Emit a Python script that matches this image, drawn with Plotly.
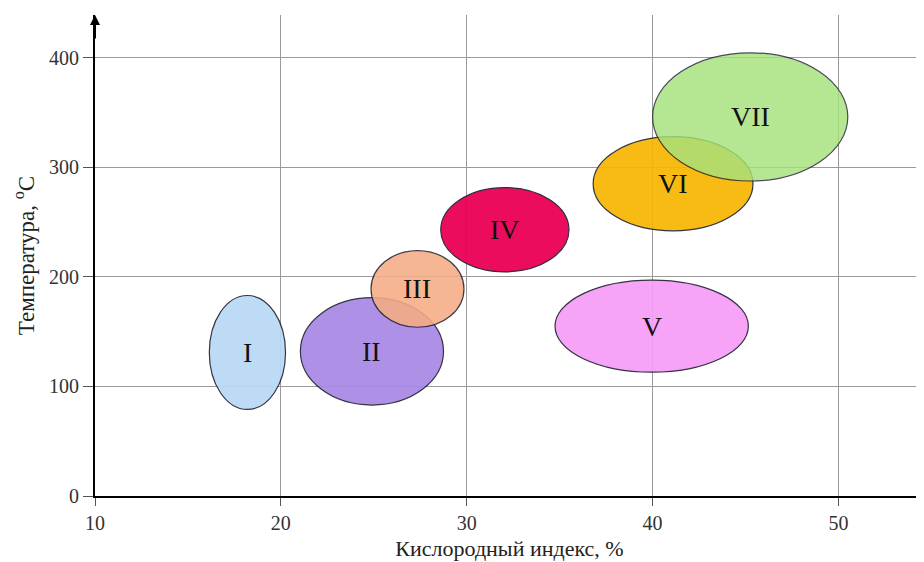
import plotly.graph_objects as go

labels = ["I", "II", "III", "IV", "V", "VI", "VII"]
x_center = [18.2, 24.9, 27.35, 32.05, 39.95, 41.1, 45.25]
y_center = [131, 132, 189, 243, 155, 285, 346]
x_half = [2.05, 3.85, 2.5, 3.45, 5.2, 4.3, 5.25]
y_half = [52, 49, 35, 38.5, 42, 43, 58.5]
colors = ["#b9d9f5", "#a888e6", "#f6ad85", "#ea0055", "#f79cf7", "#f7b600", "#a6e27c"]
opac = [0.92, 0.92, 0.88, 0.95, 0.92, 0.92, 0.82]

x_ticks = [10, 20, 30, 40, 50]
y_ticks = [0, 100, 200, 300, 400]

fig = go.Figure()
shapes = []
for i, lab in enumerate(labels):
    shapes.append(dict(type="circle", xref="x", yref="y",
                       x0=x_center[i] - x_half[i], x1=x_center[i] + x_half[i],
                       y0=y_center[i] - y_half[i], y1=y_center[i] + y_half[i],
                       fillcolor=colors[i], opacity=opac[i],
                       line=dict(color="#222233", width=1.2), layer="above"))
    fig.add_annotation(x=x_center[i], y=y_center[i], xref="x", yref="y", text=lab,
                       showarrow=False, font=dict(family="Liberation Serif", size=28, color="#111"))
fig.add_trace(go.Scatter(x=x_center, y=y_center, mode="markers", marker=dict(opacity=0),
                         hoverinfo="skip", showlegend=False))

fig.update_layout(
    width=924, height=562,
    margin=dict(l=87, r=8, t=7, b=74),
    paper_bgcolor="white", plot_bgcolor="white",
    shapes=shapes,
    font=dict(family="Liberation Serif", color="#222"),
    xaxis=dict(range=[10, 54.6], tickvals=x_ticks, showgrid=True, gridcolor="#9a9a9a", gridwidth=1,
               zeroline=False, showline=True, linecolor="black", linewidth=2,
               ticks="outside", ticklen=8, tickcolor="#555", tickfont=dict(size=20, color="#333"),
               title=dict(text="Кислородный индекс, %", font=dict(size=22), standoff=8)),
    yaxis=dict(range=[0, 439], tickvals=y_ticks, showgrid=True, gridcolor="#9a9a9a", gridwidth=1,
               zeroline=False, showline=True, linecolor="black", linewidth=2,
               ticks="outside", ticklen=10, tickcolor="#555", tickfont=dict(size=20, color="#333"),
               title=dict(text="Температура, <sup>o</sup>C", font=dict(size=23), standoff=8)),
)
fig.add_annotation(x=10, y=1.0, xref="x", yref="paper", ax=0, ay=25,
                   showarrow=True, arrowhead=2, arrowsize=1, arrowwidth=2, arrowcolor="black", text="")
fig.write_html("out.html")
